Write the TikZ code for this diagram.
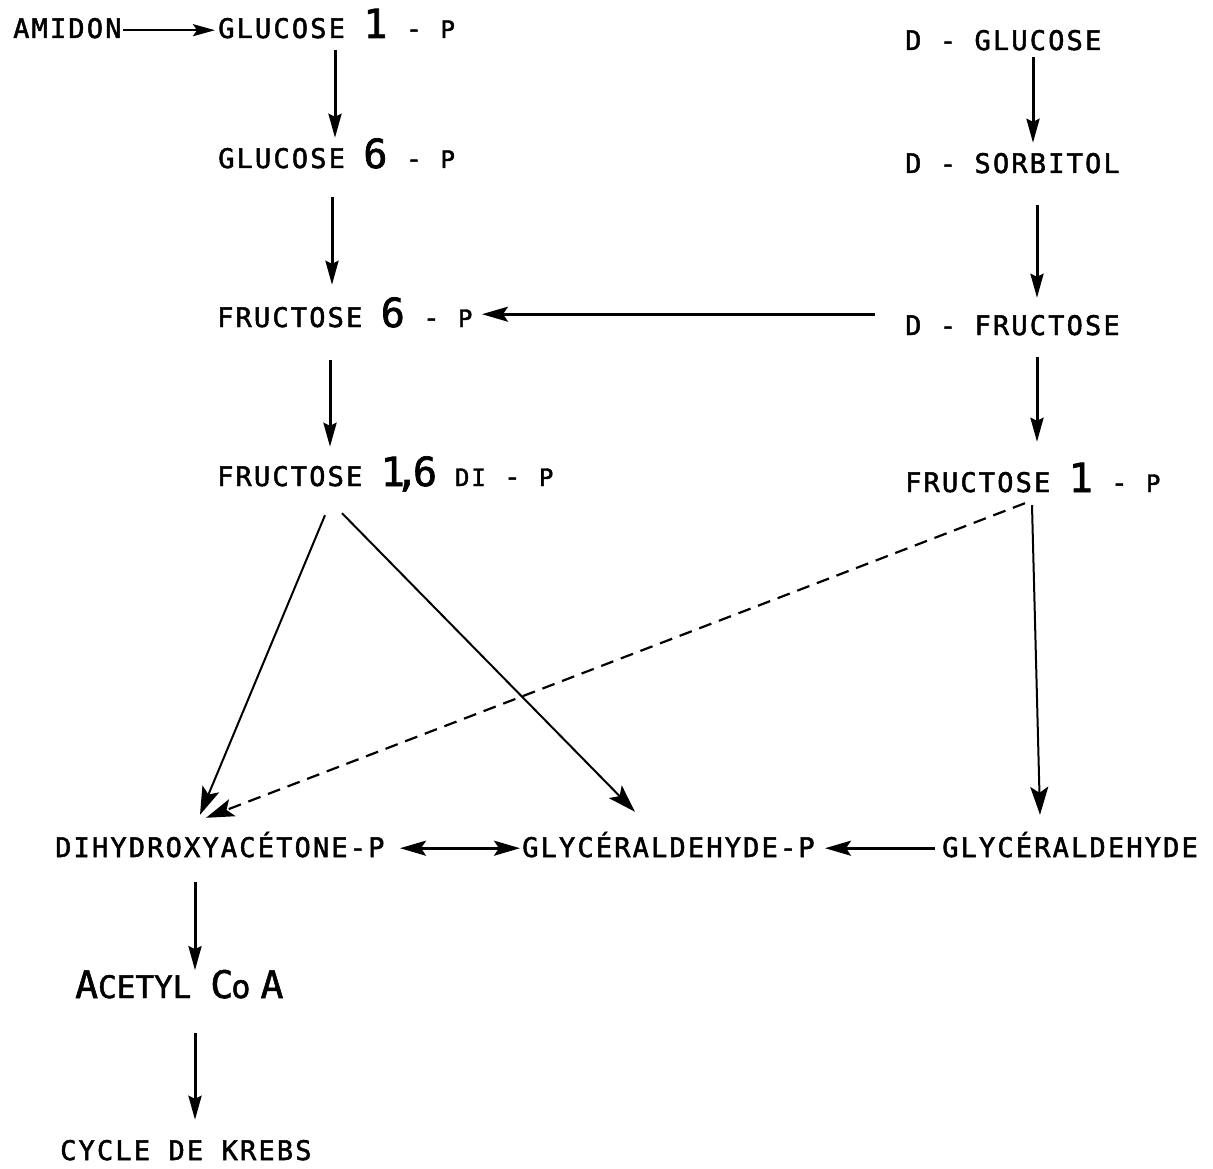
\documentclass[tikz,border=0pt]{standalone}
\usepackage{fontspec}
\usetikzlibrary{arrows.meta}
\newfontfamily\twfont[LetterSpace=8,FakeBold=1.8]{DejaVu Sans Mono}
\newfontfamily\twplain[FakeBold=1.5]{DejaVu Sans Mono}
\newcommand\bigdig[1]{{\fontsize{40}{40}\selectfont #1}}
\newcommand\smlet[1]{{\fontsize{24}{24}\selectfont #1}}
\begin{document}
\begin{tikzpicture}[x=1pt,y=-1pt,
  lab/.style={font=\twfont\fontsize{27}{30}\selectfont, inner sep=0pt, text depth=0pt, text height=20pt, anchor=base west},
  va/.style={line width=3pt, -{Stealth[length=24pt,width=13pt,inset=3pt]}},
  ha/.style={line width=2.6pt, -{Stealth[length=26pt,width=15pt,inset=5pt]}},
  da/.style={line width=2pt, -{Stealth[length=28pt,width=18pt,inset=6pt]}},
  dsh/.style={line width=2.2pt, dash pattern=on 13pt off 8pt, -{Stealth[length=28pt,width=18pt,inset=6pt]}}]
\useasboundingbox[fill=white] (0,0) rectangle (1213,1169);

\node[lab] (am) at (13,38) {AMIDON};
\node[lab] (g1) at (218,38) {GLUCOSE \bigdig{1} - \smlet{P}};
\node[lab] (dg) at (905,50) {D - GLUCOSE};
\node[lab] (g6) at (218,168) {GLUCOSE \bigdig{6} - \smlet{P}};
\node[lab] (ds) at (905,173) {D - SORBITOL};
\node[lab] (f6) at (217,327) {FRUCTOSE \bigdig{6} - \smlet{P}};
\node[lab] (df) at (905,335) {D - FRUCTOSE};
\node[lab] (f16) at (217,486) {FRUCTOSE \bigdig{1\kern-10pt,\kern-6pt6}\hspace{18pt}\smlet{DI} - \smlet{P}};
\node[lab] (f1p) at (905,492) {FRUCTOSE \bigdig{1} - \smlet{P}};
\node[lab] (dhap) at (55,857) {DIHYDROXYACÉTONE-P};
\node[lab] (gap) at (522,857) {GLYCÉRALDEHYDE-P};
\node[lab] (gla) at (942,857) {GLYCÉRALDEHYDE};
\node[inner sep=0pt, text depth=0pt, anchor=base west, font=\twplain\fontsize{38}{40}\selectfont] (acoa) at (75,998)
  {A{\fontsize{31}{31}\selectfont CETYL}\hspace{19pt}C\kern-2pt{\fontsize{32}{32}\selectfont o}\hspace{10pt}A};
\node[lab] (krebs) at (60,1160) {CYCLE DE KREBS};

% connectors
\draw[line width=2.4pt, -{Stealth[length=22pt,width=12pt,inset=4pt]}]
  ([shift={(110,-8)}]am.south west) -- ([shift={(-3,-8)}]g1.south west);
\draw[va] ([shift={(117,12)}]g1.south west) -- ([shift={(117,-10)}]g6.north west);
\draw[va] ([shift={(114,29)}]g6.south west) -- ([shift={(115,-22)}]f6.north west);
\draw[va] ([shift={(113,33)}]f6.south west) -- ([shift={(113,-19)}]f16.north west);
\draw[va] ([shift={(128,7)}]dg.south west) -- ([shift={(128,-10)}]ds.north west);
\draw[va] ([shift={(132,32)}]ds.south west) -- ([shift={(132,-17)}]df.north west);
\draw[va] ([shift={(132,22)}]df.south west) -- ([shift={(132,-30)}]f1p.north west);
\draw[ha] ([shift={(-30,-21)}]df.south west) -- ([shift={(265,-13)}]f6.south west);
\draw[da] ([shift={(108,29)}]f16.south west) -- ([shift={(145,-22)}]dhap.north west);
\draw[da] ([shift={(125,27)}]f16.south west) -- ([shift={(113,-25)}]gap.north west);
\draw[dsh] ([shift={(120,11)}]f1p.south west) -- ([shift={(151,-19)}]dhap.north west);
\draw[da] ([shift={(127,13)}]f1p.south west) -- ([shift={(98,-22)}]gla.north west);
\draw[line width=2.6pt, {Stealth[length=26pt,width=15pt,inset=5pt]}-{Stealth[length=26pt,width=15pt,inset=5pt]}]
  ([shift={(345,-9)}]dhap.south west) -- ([shift={(-2,-9)}]gap.south west);
\draw[ha] ([shift={(-7,-9)}]gla.south west) -- ([shift={(303,-9)}]gap.south west);
\draw[va] ([shift={(140,25)}]dhap.south west) -- ([shift={(120,-28)}]acoa.south west);
\draw[va] ([shift={(120,35)}]acoa.south west) -- ([shift={(135,-20)}]krebs.north west);
\end{tikzpicture}
\end{document}
